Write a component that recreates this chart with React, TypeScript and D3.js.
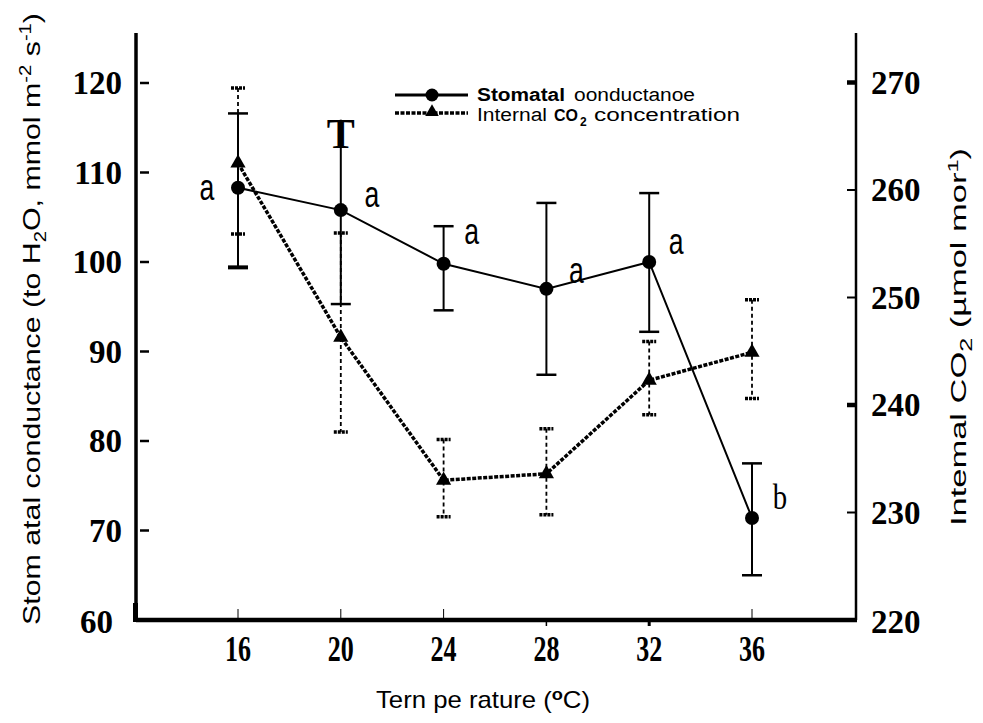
import React from "react";
import * as d3 from "d3";

// ---- data ----
const temperatures = [16, 20, 24, 28, 32, 36];
const conductance = [108.3, 105.8, 99.8, 97.0, 100.0, 71.4];
const conductanceUpper = [116.6, 115.9, 104.0, 106.6, 107.7, 77.5];
const conductanceLower = [99.4, 95.3, 94.6, 87.4, 92.2, 65.0];
const conductanceLetters = ["a", "a", "a", "a", "a", "b"];
const co2 = [262.5, 246.3, 233.0, 233.6, 242.3, 244.9];
const co2Upper = [269.5, 256.0, 236.8, 237.8, 245.9, 249.8];
const co2Lower = [255.9, 237.5, 229.6, 229.8, 239.1, 240.6];
const leftTicks = [60, 70, 80, 90, 100, 110, 120];
const rightTicks = [220, 230, 240, 250, 260, 270];
const xTicks = [16, 20, 24, 28, 32, 36];

// letter label offsets (px) relative to each mean point
const letterOffsets: [number, number][] = [
  [-31, 12], [31, -3], [28, -20], [30, -6], [27, -8], [28, -9],
];

const SANS = "'Liberation Sans', Arial, sans-serif";
const SERIF = "'Liberation Serif', 'Times New Roman', serif";

export default function App() {
  const W = 983, H = 723;
  const left = 136, right = 856, top = 33, bottom = 620;
  const x = d3.scaleLinear().domain([16, 36]).range([238, 752]);
  const yL = d3.scaleLinear().domain([60, 120]).range([620, 83]);
  const yR = d3.scaleLinear().domain([220, 270]).range([620, 82.5]);

  const condLine = d3
    .line<number>()
    .x((_, i) => x(temperatures[i]))
    .y((d) => yL(d));
  const co2Line = d3
    .line<number>()
    .x((_, i) => x(temperatures[i]))
    .y((d) => yR(d));
  const tri = d3.symbol(d3.symbolTriangle, 100)() as string;
  const triSmall = d3.symbol(d3.symbolTriangle, 80)() as string;

  return (
    <div style={{ position: "absolute", left: 0, top: 0, width: W, height: H, background: "#fff" }}>
      <svg width={W} height={H} viewBox={`0 0 ${W} ${H}`} style={{ display: "block" }}>
        <rect width={W} height={H} fill="#fff" />

        {/* axes frame */}
        <line x1={left} x2={left} y1={top} y2={bottom + 2} stroke="#000" strokeWidth={3.5} />
        <rect x={133} y={603} width={5} height={19} fill="#000" />
        <line x1={left} x2={right + 1} y1={bottom} y2={bottom} stroke="#000" strokeWidth={4.5} />
        <line x1={right} x2={right} y1={top} y2={bottom} stroke="#000" strokeWidth={2.5} />

        {/* left ticks */}
        {leftTicks.filter((t) => t > 60).map((t) => (
          <line key={"lt" + t} x1={140} x2={149} y1={yL(t)} y2={yL(t)} stroke="#000" strokeWidth={2.5} />
        ))}
        {leftTicks.map((t, i) => (
          <text
            key={"ll" + t}
            x={i === 0 ? 113 : 122}
            y={yL(t) + (i === 0 ? 2 : 0)}
            textAnchor="end"
            dominantBaseline="central"
            fontFamily={SERIF}
            fontWeight="bold"
            fontSize={33}
          >
            {t}
          </text>
        ))}

        {/* right ticks */}
        {rightTicks.filter((t) => t > 220).map((t) => (
          <line
            key={"rt" + t}
            x1={847}
            x2={right}
            y1={yR(t)}
            y2={yR(t)}
            stroke="#000"
            strokeWidth={t === 270 || t === 240 ? 4.5 : 2}
          />
        ))}
        {rightTicks.map((t) => (
          <text
            key={"rl" + t}
            x={871}
            y={yR(t) + (t === 220 ? 2 : 0)}
            textAnchor="start"
            dominantBaseline="central"
            fontFamily={SERIF}
            fontWeight="bold"
            fontSize={33}
          >
            {t}
          </text>
        ))}

        {/* x ticks */}
        {xTicks.map((t) =>
          t === 28 || t === 32 ? (
            <line key={"xt" + t} x1={x(t)} x2={x(t)} y1={bottom} y2={bottom + 6} stroke="#000" strokeWidth={t === 32 ? 3 : 1.5} />
          ) : (
            <line key={"xt" + t} x1={x(t)} x2={x(t)} y1={bottom - 11} y2={bottom} stroke="#000" strokeWidth={1} />
          )
        )}
        {xTicks.map((t) => (
          <text
            key={"xl" + t}
            x={x(t)}
            y={661}
            textAnchor="middle"
            fontFamily={SERIF}
            fontWeight="bold"
            fontSize={35}
            textLength={26}
            lengthAdjust="spacingAndGlyphs"
          >
            {t}
          </text>
        ))}

        {/* axis titles */}
        <text
          transform="translate(40,625) rotate(-90)"
          fontFamily={SANS}
          fontSize={24}
          textLength={612}
          lengthAdjust="spacingAndGlyphs"
        >
          Stom atal conductance (to H<tspan dy={6} fontSize={16}>2</tspan>
          <tspan dy={-6}>O, mmol m</tspan>
          <tspan dy={-9} fontSize={16}>-2</tspan>
          <tspan dy={9}> s</tspan>
          <tspan dy={-9} fontSize={16}>-1</tspan>
          <tspan dy={9}>)</tspan>
        </text>
        <text
          transform="translate(966,526) rotate(-90)"
          fontFamily={SANS}
          fontSize={22}
          textLength={378}
          lengthAdjust="spacingAndGlyphs"
        >
          Intemal CO<tspan dy={6} fontSize={16}>2</tspan>
          <tspan dy={-6}>{"  (µmol mor"}</tspan>
          <tspan dy={-8} fontSize={15}>1</tspan>
          <tspan dy={8}>)</tspan>
        </text>
        <text x={376} y={708} fontFamily={SANS} fontSize={24} textLength={214} lengthAdjust="spacingAndGlyphs">
          Tern pe rature (<tspan dy={-8} fontSize={17} fontWeight="bold">o</tspan>
          <tspan dy={8}>C)</tspan>
        </text>

        {/* CO2 series */}
        <path d={co2Line(co2) ?? ""} fill="none" stroke="#000" strokeWidth={3.5} strokeDasharray="4 1.5" />
        {temperatures.map((t, i) => (
          <g key={"ce" + t}>
            <line x1={x(t)} x2={x(t)} y1={yR(co2Upper[i])} y2={yR(co2Lower[i])} stroke="#000" strokeWidth={1.8} strokeDasharray="4 3" />
            <line x1={x(t) - 7} x2={x(t) + 7} y1={yR(co2Upper[i])} y2={yR(co2Upper[i])} stroke="#000" strokeWidth={3.5} strokeDasharray="3 1" />
            <line x1={x(t) - 7} x2={x(t) + 7} y1={yR(co2Lower[i])} y2={yR(co2Lower[i])} stroke="#000" strokeWidth={3.5} strokeDasharray="3 1" />
            <path d={tri} transform={`translate(${x(t)},${yR(co2[i])})`} fill="#000" />
          </g>
        ))}

        {/* conductance series */}
        <path d={condLine(conductance) ?? ""} fill="none" stroke="#000" strokeWidth={2} />
        {temperatures.map((t, i) => (
          <g key={"ge" + t}>
            <line x1={x(t)} x2={x(t)} y1={yL(conductanceUpper[i])} y2={yL(conductanceLower[i])} stroke="#000" strokeWidth={2} />
            {t === 20 ? (
              <text
                x={x(t)}
                y={yL(conductanceUpper[i]) + 28}
                textAnchor="middle"
                fontFamily={SERIF}
                fontWeight="bold"
                fontSize={42}
              >
                T
              </text>
            ) : (
              <line x1={x(t) - 10} x2={x(t) + 10} y1={yL(conductanceUpper[i])} y2={yL(conductanceUpper[i])} stroke="#000" strokeWidth={2.5} />
            )}
            <line x1={x(t) - 10} x2={x(t) + 10} y1={yL(conductanceLower[i])} y2={yL(conductanceLower[i])} stroke="#000" strokeWidth={t === 16 ? 4 : 2.5} />
            <circle cx={x(t)} cy={yL(conductance[i])} r={7} fill="#000" />
          </g>
        ))}
        {temperatures.map((t, i) => {
          const [dx, dy] = letterOffsets[i];
          const isB = conductanceLetters[i] === "b";
          return (
            <text
              key={"lab" + t}
              transform={`translate(${x(t) + dx},${yL(conductance[i]) + dy}) scale(${isB ? 0.8 : 0.72},1)`}
              textAnchor="middle"
              fontFamily={isB ? SERIF : SANS}
              fontSize={isB ? 36 : 37}
            >
              {conductanceLetters[i]}
            </text>
          );
        })}

        {/* legend */}
        <line x1={395} x2={468} y1={95} y2={95} stroke="#000" strokeWidth={3} />
        <circle cx={432} cy={95} r={6.5} fill="#000" />
        <line x1={395} x2={468} y1={113} y2={113} stroke="#000" strokeWidth={3.5} strokeDasharray="4 1.5" />
        <path d={triSmall} transform="translate(432,112)" fill="#000" />
        <text x={477} y={101} fontFamily={SANS} fontWeight="bold" fontSize={18} textLength={88} lengthAdjust="spacingAndGlyphs">
          Stomatal
        </text>
        <text x={574} y={101} fontFamily={SANS} fontSize={18} textLength={121} lengthAdjust="spacingAndGlyphs">
          oonductanoe
        </text>
        <text x={477} y={121} fontFamily={SANS} fontSize={18} textLength={70} lengthAdjust="spacingAndGlyphs">
          Internal
        </text>
        <text x={554} y={121} fontFamily={SANS} fontWeight="bold" fontSize={17} textLength={24} lengthAdjust="spacingAndGlyphs">
          CO
        </text>
        <text x={580} y={126} fontFamily={SANS} fontWeight="bold" fontSize={12}>
          2
        </text>
        <text x={594} y={121} fontFamily={SANS} fontSize={18} textLength={146} lengthAdjust="spacingAndGlyphs">
          concentration
        </text>
      </svg>
    </div>
  );
}
